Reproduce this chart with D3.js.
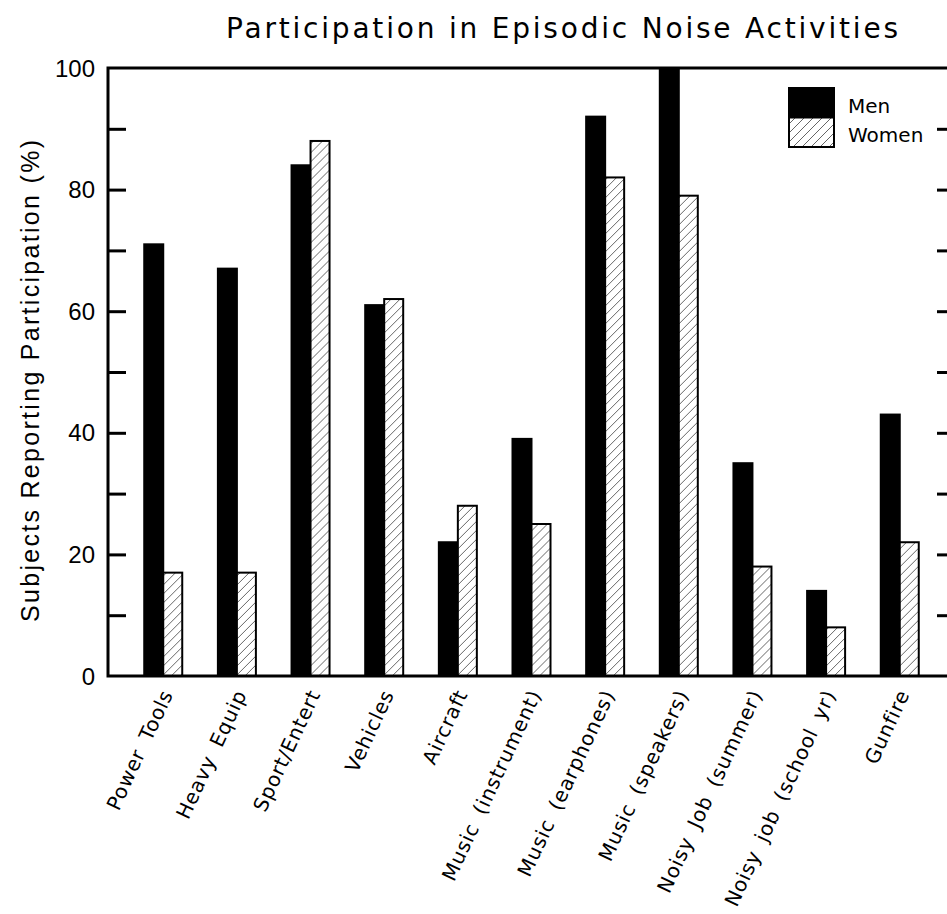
<!DOCTYPE html>
<html>
<head>
<meta charset="utf-8">
<script src="https://cdn.jsdelivr.net/npm/d3@7"></script>
<style>
  body { margin: 0; background: #fff; }
  svg { display: block; }
</style>
</head>
<body>
<div id="chart"></div>
<script>
// Chart values
var categories = ["Power Tools", "Heavy Equip", "Sport/Entert", "Vehicles", "Aircraft",
    "Music (instrument)", "Music (earphones)", "Music (speakers)",
    "Noisy Job (summer)", "Noisy job (school yr)", "Gunfire"];
var series_names = ["Men", "Women"];
var men_values = [71, 67, 84, 61, 22, 39, 92, 100, 35, 14, 43];
var women_values = [17, 17, 88, 62, 28, 25, 82, 79, 18, 8, 22];
var y_tick_values = [0, 20, 40, 60, 80, 100];
var y_minor_values = [10, 20, 30, 40, 50, 60, 70, 80, 90];

var total_width = 947, total_height = 914;
var plot = { left: 108, top: 68, right: 955, bottom: 676 };

var svg = d3.select("#chart").append("svg")
    .attr("width", total_width)
    .attr("height", total_height);

// hatch for the women bars
var defs = svg.append("defs");
var hatch = defs.append("pattern")
    .attr("id", "hatch")
    .attr("patternUnits", "userSpaceOnUse")
    .attr("width", 9)
    .attr("height", 9);
hatch.append("rect").attr("width", 9).attr("height", 9).attr("fill", "#fff");
hatch.append("path")
    .attr("d", "M-1,10 L10,-1 M-5,5 L5,-5 M4,14 L14,4")
    .attr("stroke", "#666")
    .attr("stroke-width", 1);

var x = d3.scaleBand()
    .domain(categories)
    .range([plot.left, plot.right])
    .paddingOuter(0.25)
    .paddingInner(0);

var bar_w = 19;
var x_inner = d3.scaleBand()
    .domain(series_names)
    .range([-bar_w, bar_w]);

var y = d3.scaleLinear()
    .domain([0, 100])
    .range([plot.bottom, plot.top]);

var rows = categories.map(function(c, i) {
    return { cat: c, values: [men_values[i], women_values[i]] };
});

// bars
var groups = svg.selectAll("g.grp")
    .data(rows)
    .enter().append("g")
    .attr("class", "grp")
    .attr("transform", function(d) { return "translate(" + (x(d.cat) + x.bandwidth() / 2) + ",0)"; });

groups.selectAll("rect")
    .data(function(d) { return d.values.map(function(v, k) { return { name: series_names[k], v: v }; }); })
    .enter().append("rect")
    .attr("x", function(d) { return x_inner(d.name); })
    .attr("y", function(d) { return y(d.v); })
    .attr("width", x_inner.bandwidth())
    .attr("height", function(d) { return y(0) - y(d.v); })
    .attr("fill", function(d) { return d.name == "Men" ? "#000" : "url(#hatch)"; })
    .attr("stroke", "#000")
    .attr("stroke-width", 2);

// frame
svg.append("path")
    .attr("d", "M" + plot.right + "," + plot.top + " H" + plot.left + " V" + plot.bottom + " H" + plot.right)
    .attr("fill", "none")
    .attr("stroke", "#000")
    .attr("stroke-width", 3);

// left axis ticks (inward) and labels
var left_axis = svg.append("g")
    .attr("transform", "translate(" + plot.left + ",0)")
    .call(d3.axisRight(y).tickValues(y_minor_values).tickSize(18).tickFormat(""));
left_axis.select(".domain").remove();
left_axis.selectAll("line").attr("stroke-width", 3);

svg.append("g").selectAll("text")
    .data(y_tick_values)
    .enter().append("text")
    .attr("x", plot.left - 13)
    .attr("y", function(d) { return y(d); })
    .attr("dy", "0.36em")
    .attr("text-anchor", "end")
    .style("font-family", "'Liberation Sans', Arial, sans-serif")
    .style("font-size", "24px")
    .text(function(d) { return d; });

// right axis ticks (inward)
var right_axis = svg.append("g")
    .attr("transform", "translate(" + plot.right + ",0)")
    .call(d3.axisLeft(y).tickValues(y_minor_values).tickSize(18).tickFormat(""));
right_axis.select(".domain").remove();
right_axis.selectAll("line").attr("stroke-width", 3);

// category labels
svg.append("g").selectAll("text")
    .data(categories)
    .enter().append("text")
    .attr("transform", function(d) {
        return "translate(" + (x(d) + x.bandwidth() / 2 + 4) + "," + (plot.bottom + 15) + ") rotate(-65)";
    })
    .attr("text-anchor", "end")
    .attr("dy", "0.35em")
    .style("font-family", "'DejaVu Sans', sans-serif")
    .style("font-size", "20px")
    .style("letter-spacing", "0.8px")
    .style("word-spacing", "5px")
    .text(function(d) { return d; });

// y axis title
svg.append("text")
    .attr("transform", "translate(39,381) rotate(-90)")
    .attr("text-anchor", "middle")
    .attr("textLength", 482)
    .attr("lengthAdjust", "spacing")
    .style("font-family", "'Liberation Sans', Arial, sans-serif")
    .style("font-size", "25px")
    .text("Subjects Reporting Participation (%)");

// title
svg.append("text")
    .attr("x", 226)
    .attr("y", 38)
    .attr("textLength", 672)
    .attr("lengthAdjust", "spacing")
    .style("font-family", "'DejaVu Sans', sans-serif")
    .style("font-size", "28px")
    .text("Participation in Episodic Noise Activities");

// legend
var legend = svg.append("g").attr("transform", "translate(789,88)");
legend.selectAll("rect")
    .data(series_names)
    .enter().append("rect")
    .attr("x", 0)
    .attr("y", function(d, i) { return i * 29.5; })
    .attr("width", 45)
    .attr("height", 29.5)
    .attr("fill", function(d) { return d == "Men" ? "#000" : "url(#hatch)"; })
    .attr("stroke", "#000")
    .attr("stroke-width", 2);
legend.selectAll("text")
    .data(series_names)
    .enter().append("text")
    .attr("x", 59)
    .attr("y", function(d, i) { return 25 + i * 29; })
    .style("font-family", "'DejaVu Sans', sans-serif")
    .style("font-size", "20px")
    .text(function(d) { return d; });
</script>
</body>
</html>
